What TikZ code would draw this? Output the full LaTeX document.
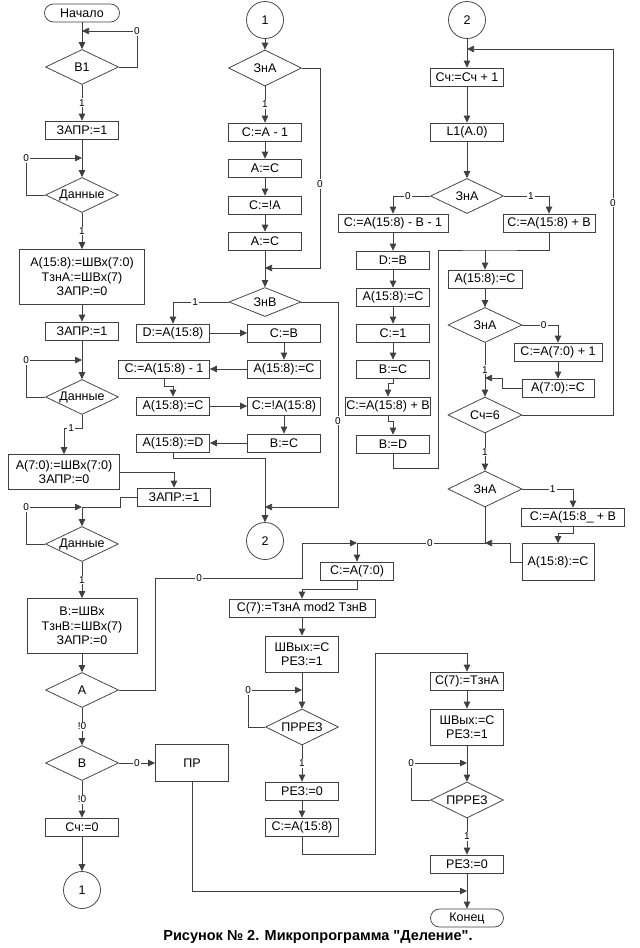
\documentclass[tikz,border=0pt]{standalone}
\usepackage{fontspec}
\setmainfont{Liberation Sans}[Ligatures=TeXOff]
\usetikzlibrary{arrows.meta,shapes.geometric}

\tikzset{
  ln/.style={draw=black!75, line width=0.75pt},
  arr/.style={ln, -{Triangle[length=7pt,width=6.5pt]}},
  op/.style={rectangle, draw=black!75, line width=0.75pt, fill=white, minimum width=73pt, minimum height=18pt, inner sep=0.5pt, align=center, font=\fontsize{12.5}{14.5}\selectfont},
  cond/.style={op, diamond, aspect=2, inner sep=0pt, minimum height=35pt},
  term/.style={op, rounded corners=9pt, minimum width=75pt},
  conn/.style={op, circle, minimum size=37pt, inner sep=0pt},
  lbl/.style={fill=white, inner sep=1pt, font=\fontsize{10}{11}\selectfont}
}

\begin{document}
\begin{tikzpicture}[x=1pt,y=-1pt]
  \fill[white] (0,0) rectangle (640,948);
  \useasboundingbox (0,0) rectangle (640,948);

  % left column
  \node[term] (nach) at (82,13) {Начало};
  \node[cond] (b1) at (82,67) {B1};
  \node[op] (zapr1) at (82,130) {ЗАПР:=1};
  \node[cond] (dan1) at (82,195) {Данные};
  \node[op, minimum width=125pt, minimum height=55pt] (vvodA) at (82,277) {A(15:8):=ШВх(7:0)\\ТзнА:=ШВх(7)\\ЗАПР:=0};
  \node[op] (zapr2) at (82,331) {ЗАПР:=1};
  \node[cond] (dan2) at (82,397) {Данные};
  \node[op, minimum width=111pt, minimum height=35pt] (vvodAl) at (64,472) {A(7:0):=ШВх(7:0)\\ЗАПР:=0};
  \node[op] (zapr3) at (174,497) {ЗАПР:=1};
  \node[cond] (dan3) at (82,544) {Данные};
  \node[op, minimum width=110pt, minimum height=55pt] (vvodB) at (82,626) {B:=ШВх\\ТзнB:=ШВх(7)\\ЗАПР:=0};
  \node[cond] (ca) at (82,690) {A};
  \node[cond] (cb) at (82,763) {B};
  \node[op, minimum height=37pt] (pr) at (192,763) {ПР};
  \node[op] (sch0) at (82,827) {Сч:=0};
  \node[conn] (con1) at (82,890) {1};

  % middle column
  \node[conn] (con1b) at (265,20) {1};
  \node[cond, minimum height=36pt] (zna1) at (265,68) {ЗнА};
  \foreach \nm/\y/\txt in {am1/132/{C:=A - 1}, ac1/168/{A:=C}, cna/205/{C:=!A}, ac2/241/{A:=C}}
    \node[op] (\nm) at (265,\y) {\txt};
  \node[cond, minimum width=72pt, minimum height=29pt] (znb) at (265,302) {ЗнВ};
  \node[op] (da) at (173,333) {D:=A(15:8)};
  \node[op] (cbb) at (284,333) {C:=B};
  \node[op] (ac15a) at (284,369) {A(15:8):=C};
  \node[op, minimum width=91pt] (cam1) at (164,369) {C:=A(15:8) - 1};
  \node[op] (ac15b) at (173,406) {A(15:8):=C};
  \node[op] (cna15) at (284,406) {C:=!A(15:8)};
  \node[op] (bc1) at (284,443) {B:=C};
  \node[op] (ad) at (173,443) {A(15:8):=D};
  \node[conn] (con2) at (265,541) {2};

  % right column
  \node[conn] (con2b) at (467,20) {2};
  \node[op] (schinc) at (467,77) {Сч:=Сч + 1};
  \node[op] (lsh) at (467,132) {L1(A.0)};
  \node[cond] (zna2) at (467,196) {ЗнА};
  \node[op, minimum width=110pt] (sub) at (393,223) {C:=A(15:8) - B - 1};
  \node[op, minimum width=92pt] (add1) at (549,223) {C:=A(15:8) + B};
  \foreach \nm/\y/\txt in {db/260/{D:=B}, ac15c/297/{A(15:8):=C}, c1/333/{C:=1}, bc2/369/{B:=C}}
    \node[op] (\nm) at (393,\y) {\txt};
  \node[op, minimum width=84pt] (addb) at (388,406) {C:=A(15:8) + B};
  \node[op] (bd) at (393,444) {B:=D};
  \node[op, minimum width=74pt] (ac15d) at (485,279) {A(15:8):=C};
  \node[cond, minimum width=74pt] (zna3) at (485,325) {ЗнА};
  \node[op, minimum width=88pt] (inc) at (558,352) {C:=A(7:0) + 1};
  \node[op, minimum width=72pt] (a70) at (558,388) {A(7:0):=C};
  \node[cond, minimum width=74pt, minimum height=36pt] (sch6) at (485,415) {Сч=6};
  \node[cond, minimum width=74pt, minimum height=36pt] (zna4) at (485,489) {ЗнА};
  \node[op, minimum width=103pt] (add2) at (573,517) {C:=A(15:8\_ + B};
  \node[op, minimum width=72pt, minimum height=37pt] (ac15e) at (558,562) {A(15:8):=C};

  % bottom part
  \node[op] (ca70) at (357,571) {C:=A(7:0)};
  \node[op, minimum width=146pt] (cmod) at (302,608) {C(7):=ТзнА mod2 ТзнВ};
  \node[op, minimum height=36pt] (shv1) at (302,654) {ШВых:=С\\РЕЗ:=1};
  \node[cond, minimum height=36pt] (prz1) at (302,727) {ПРРЕЗ};
  \node[op] (rez1) at (302,791) {РЕЗ:=0};
  \node[op] (ca158) at (302,827) {C:=A(15:8)};
  \node[op] (c7) at (467,681) {C(7):=ТзнА};
  \node[op, minimum height=36pt] (shv2) at (467,727) {ШВых:=С\\РЕЗ:=1};
  \node[cond, minimum height=36pt] (prz2) at (467,800) {ПРРЕЗ};
  \node[op] (rez2) at (467,864) {РЕЗ:=0};
  \node[term, minimum width=73pt] (kon) at (467,918) {Конец};
  \node[font=\bfseries\fontsize{14.5}{16}\selectfont] (cap) at (318,937) {Рисунок № 2. Микропрограмма "Деление".};

  \coordinate (j1) at (82,31);
  \coordinate (j2) at (82,158);
  \coordinate (j2b) at (82,360);
  \coordinate (j3) at (82,507);
  \coordinate (j4) at (357,543);
  \coordinate (j5) at (265,268);
  \coordinate (j6) at (265,507);
  \coordinate (j7) at (485,543);
  \coordinate (j8) at (467,49);
  \coordinate (j9) at (467,891);
  \coordinate (j10) at (485,250);
  \coordinate (j11) at (485,378);
  \coordinate (j12) at (302,690);
  \coordinate (j13) at (467,763);

  % left column connectors
  \draw[arr] (nach) -- (b1);
  \draw[arr] (b1.east) -- ++(18,0) |- node[lbl,pos=0.5]{0} (j1);
  \draw[arr] (b1) -- node[lbl]{1} (zapr1);
  \draw[arr] (zapr1) -- (dan1);
  \draw[arr] (dan1.west) -- ++(-19,0) |- node[lbl,pos=0.5]{0} (j2);
  \draw[arr] (dan1) -- node[lbl]{1} (vvodA);
  \draw[arr] (vvodA) -- (zapr2);
  \draw[arr] (zapr2) -- (dan2);
  \draw[arr] (dan2.west) -- ++(-19,0) |- node[lbl,pos=0.5]{0} (j2b);
  \draw[arr] (dan2.south) -- ++(0,13) -| node[lbl,pos=0.3]{1} (vvodAl.north);
  \draw[arr] (vvodAl.east) -| (zapr3.north);
  \draw[ln] (zapr3.west) -- ++(-17,0) |- (j3);
  \draw[arr] (dan3.west) -- ++(-19,0) |- node[lbl,pos=0.5]{0} (j3);
  \draw[arr] (j3) -- (dan3);
  \draw[arr] (dan3) -- node[lbl]{1} (vvodB);
  \draw[arr] (vvodB) -- (ca);
  \draw[arr] (ca.east) -- (155,690) -- (155,578) -- node[lbl,pos=0.3]{0} (302,578) -- (302,543) -- (j4);
  \draw[arr] (ca) -- node[lbl]{!0} (cb);
  \draw[arr] (cb) -- node[lbl]{0} (pr);
  \draw[arr] (cb) -- node[lbl]{!0} (sch0);
  \draw[arr] (sch0) -- (con1);
  \draw[arr] (pr.south) |- (j9);

  % middle column connectors
  \draw[arr] (con1b) -- (zna1);
  \draw[arr] (zna1) -- node[lbl]{1} (am1);
  \foreach \p/\q in {am1/ac1, ac1/cna, cna/ac2, ac2/znb}
    \draw[arr] (\p) -- (\q);
  \draw[arr] (zna1.east) -| node[lbl,pos=0.79]{0} (320,268) -- (j5);
  \draw[arr] (znb.west) -| node[lbl,pos=0.3]{1} (da.north);
  \draw[arr] (znb.east) -| node[lbl,pos=0.79]{0} (338,507) -- (j6);
  \draw[arr] (da) -- (cbb);
  \draw[arr] (cbb) -- (ac15a);
  \draw[arr] (ac15a) -- (cam1);
  \draw[arr] (cam1.south) -- ++(0,8) -| (ac15b.north);
  \draw[arr] (ac15b) -- (cna15);
  \draw[arr] (cna15) -- (bc1);
  \draw[arr] (bc1) -- (ad);
  \draw[arr] (ad.south) -- ++(0,6) -| (con2.north);

  % right column connectors
  \draw[arr] (con2b) -- (schinc);
  \draw[arr] (sch6.east) -| node[lbl,pos=0.79]{0} (613,49) -- (j8);
  \draw[arr] (schinc) -- (lsh);
  \draw[arr] (lsh) -- (zna2);
  \draw[arr] (zna2.west) -| node[lbl,pos=0.3]{0} (sub.north);
  \draw[arr] (zna2.east) -| node[lbl,pos=0.3]{1} (add1.north);
  \foreach \p/\q in {sub/db, db/ac15c, ac15c/c1, c1/bc2}
    \draw[arr] (\p) -- (\q);
  \draw[arr] (bc2.south) -- ++(0,5) -| (addb.north);
  \draw[arr] (addb.south) -- ++(0,6) -| (bd.north);
  \draw[ln] (add1.south) |- (j10) -- (438,250) -- (438,468) -| (bd.south);
  \draw[arr] (j10) -- (ac15d);
  \draw[arr] (ac15d) -- (zna3);
  \draw[arr] (zna3.east) -| node[lbl,pos=0.3]{0} (inc.north);
  \draw[arr] (inc) -- (a70);
  \draw[arr] (a70.west) -- ++(-19,0) |- (j11);
  \draw[arr] (zna3) -- node[lbl]{1} (sch6);
  \draw[arr] (sch6) -- node[lbl]{1} (zna4);
  \draw[arr] (zna4.east) -| node[lbl,pos=0.3]{1} (add2.north);
  \draw[arr] (add2.south) -- ++(0,7) -| (ac15e.north);
  \draw[arr] (ac15e.west) -- ++(-11,0) |- (j7);
  \draw[ln] (zna4.south) -- (j7) -- node[lbl,pos=0.43]{0} (j4);

  % bottom connectors
  \draw[arr] (j4) -- (ca70);
  \draw[arr] (ca70.south) -- ++(0,9) -| (cmod.north);
  \draw[arr] (cmod) -- (shv1);
  \draw[arr] (shv1) -- (prz1);
  \draw[arr] (prz1.west) -- ++(-17,0) |- node[lbl,pos=0.5]{0} (j12);
  \draw[arr] (prz1) -- node[lbl]{1} (rez1);
  \draw[arr] (rez1) -- (ca158);
  \draw[arr] (ca158.south) -- ++(0,18) -| (375,653) -| (c7.north);
  \draw[arr] (c7) -- (shv2);
  \draw[arr] (shv2) -- (prz2);
  \draw[arr] (prz2.west) -- ++(-19,0) |- node[lbl,pos=0.5]{0} (j13);
  \draw[arr] (prz2) -- node[lbl]{1} (rez2);
  \draw[arr] (rez2) -- (kon);
\end{tikzpicture}
\end{document}
